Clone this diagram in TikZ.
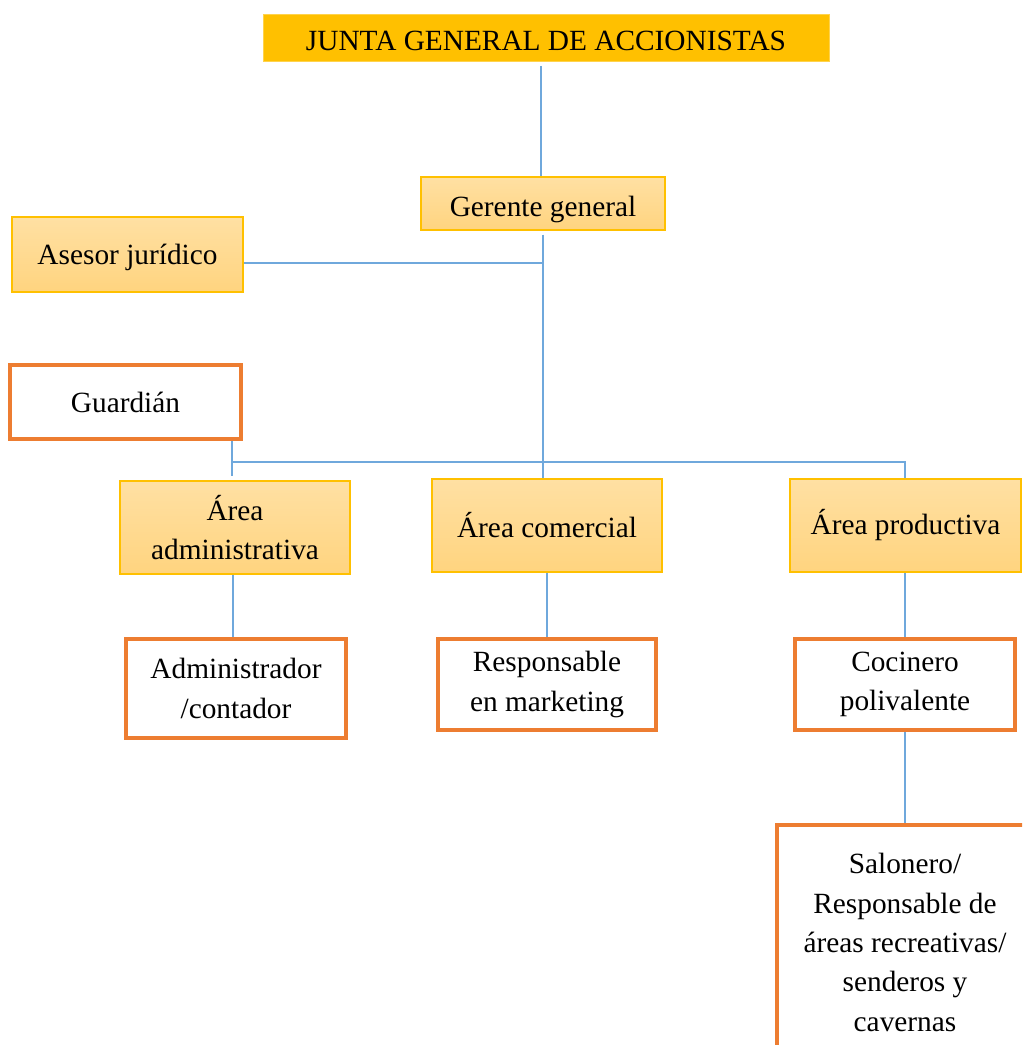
\documentclass[tikz,border=0pt]{standalone}
\usepackage{fontspec}
\setmainfont{Liberation Serif}
\definecolor{lineblue}{HTML}{6FA8DC}
\definecolor{gold}{HTML}{FFC000}
\definecolor{orng}{HTML}{ED7D31}
\definecolor{ltop}{HTML}{FFE0A3}
\definecolor{lbot}{HTML}{FFD47F}
\tikzset{
  txt/.style={font=\fontsize{22}{29.5}\selectfont, align=center, inner sep=0pt},
  topbox/.style={txt, fill=gold, draw=gold!70, line width=0.5pt},
  mgrbox/.style={txt, top color=ltop, bottom color=lbot, draw=gold, line width=1.1pt},
  staffbox/.style={txt, fill=white, draw=orng, line width=2.4pt},
  conn/.style={draw=lineblue, line width=1.1pt}
}
\begin{document}
\begin{tikzpicture}[x=0.75pt,y=-0.75pt]
\useasboundingbox (0,0) rectangle (1022,1045);
\clip (0,0) rectangle (1022,1045);
% nodes
\node[topbox, minimum width=424.5pt, minimum height=35.25pt, text height=19pt] (junta) at (546,37.5) {JUNTA GENERAL DE ACCIONISTAS};
\node[mgrbox, minimum width=183pt, minimum height=39.75pt, text height=24pt, text depth=4.8pt] (ger) at (543,203.5) {Gerente general};
\node[mgrbox, minimum width=173.25pt, minimum height=56.25pt, text height=20pt, text depth=4.8pt] (ase) at (127.5,254.5) {Asesor jurídico};
\node[staffbox, minimum width=173.25pt, minimum height=55.5pt] (gua) at (125.5,402) {Guardián};
\node[mgrbox, minimum width=172.5pt, minimum height=69.75pt] (adm) at (235,527.5) {Área\\administrativa};
\node[mgrbox, minimum width=172.5pt, minimum height=69.75pt] (com) at (547,525.5) {Área comercial};
\node[mgrbox, minimum width=173.25pt, minimum height=69.75pt] (pro) at (905.5,525.5) {Área productiva};
\node[staffbox, minimum width=165pt, minimum height=74.25pt] (admr) at (236,688.5) {Administrador\\/contador};
\node[staffbox, minimum width=163.5pt, minimum height=68.25pt] (mkt) at (547,684.5) {Responsable\\en marketing};
\node[staffbox, minimum width=165pt, minimum height=68.25pt] (coc) at (905,684.5) {Cocinero\\polivalente};
\node[staffbox, minimum width=192pt, minimum height=176.25pt] (sal) at (905,942.5) {Salonero/\\Responsable de\\áreas recreativas/\\senderos y\\cavernas};
% junction coordinates
\coordinate (j1) at (543,263);
\coordinate (gbus) at (232,462);
% connectors
\draw[conn] ([yshift=-3.5pt]junta.south -| 541,0) -- (ger.north -| 541,0);
\draw[conn] ([yshift=-3pt]ger.south) -- (ger.south |- com.north);
\draw[conn] (ase.east |- j1) -- (j1);
\draw[conn] (gua.south -| gbus) -- ([yshift=3pt]adm.north -| gbus);
\draw[conn] (gbus) -- (gbus -| 905,0) -- (pro.north -| 905,0);
\draw[conn] (adm.south -| 233,0) -- (admr.north -| 233,0);
\draw[conn] (com.south) -- (mkt.north);
\draw[conn] (pro.south -| 905,0) -- (coc.north);
\draw[conn] (coc.south) -- (sal.north);
\end{tikzpicture}
\end{document}
